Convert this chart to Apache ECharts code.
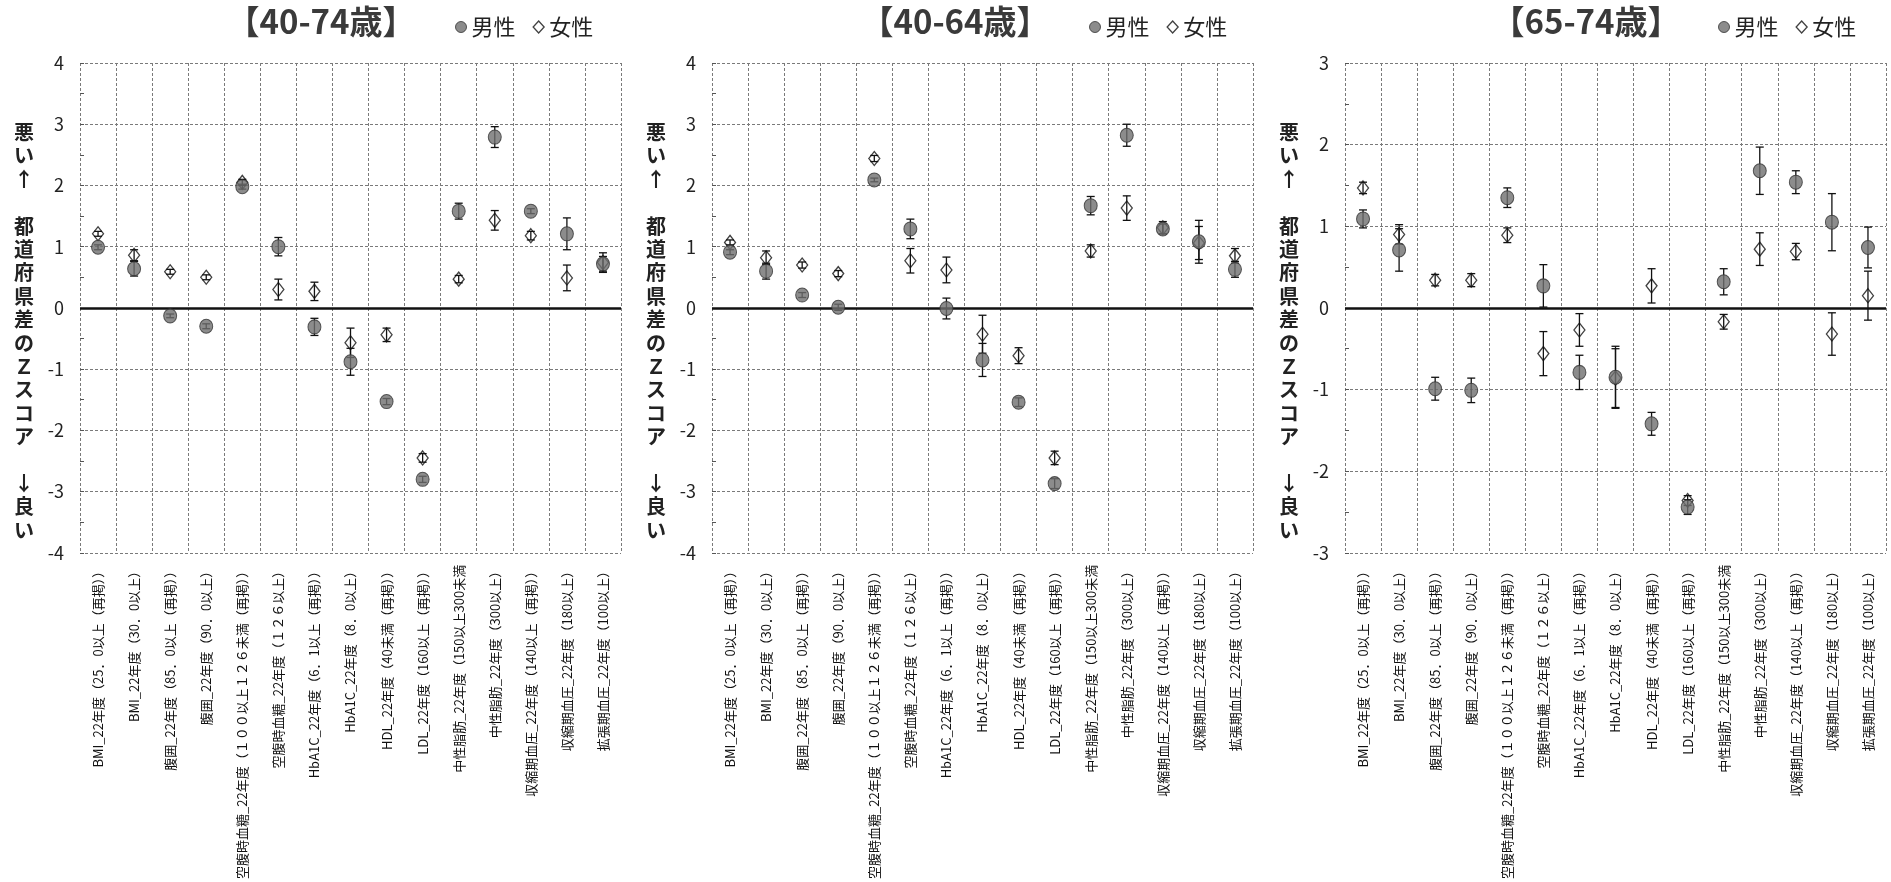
<!DOCTYPE html>
<html lang="ja">
<head>
<meta charset="utf-8">
<title>都道府県差のZスコア</title>
<script src="https://cdn.jsdelivr.net/npm/echarts@6/dist/echarts.min.js"></script>
<style>
  html, body { margin: 0; padding: 0; background: #fff; }
  #chart { width: 1891px; height: 882px; }
</style>
</head>
<body>
<div id="chart"></div>
<script>
// Health-check indicators (shared by all three panels)
const categories = [
  'BMI_22年度（25．0以上（再掲））',
  'BMI_22年度（30．0以上）',
  '腹囲_22年度（85．0以上（再掲））',
  '腹囲_22年度（90．0以上）',
  '空腹時血糖_22年度（１００以上１２６未満（再掲））',
  '空腹時血糖_22年度（１２６以上）',
  'HbA1C_22年度（6．1以上（再掲））',
  'HbA1C_22年度（8．0以上）',
  'HDL_22年度（40未満（再掲））',
  'LDL_22年度（160以上（再掲））',
  '中性脂肪_22年度（150以上300未満',
  '中性脂肪_22年度（300以上）',
  '収縮期血圧_22年度（140以上（再掲））',
  '収縮期血圧_22年度（180以上）',
  '拡張期血圧_22年度（100以上）'
];

const panelTitles = ['【40-74歳】', '【40-64歳】', '【65-74歳】'];
const seriesNames = ['男性', '女性'];
const yAxisName = '悪い↑　都道府県差のＺスコア　↓良い';

// 40-74歳: z-score and half-width of the error bar
const male4074      = [0.99, 0.64, -0.13, -0.30, 1.98, 1.00, -0.31, -0.88, -1.53, -2.80, 1.58, 2.79, 1.58, 1.21, 0.72];
const male4074Err   = [0.04, 0.12, 0.03, 0.04, 0.04, 0.15, 0.14, 0.22, 0.05, 0.05, 0.13, 0.17, 0.04, 0.26, 0.12];
const female4074    = [1.21, 0.86, 0.59, 0.50, 2.05, 0.30, 0.27, -0.57, -0.44, -2.45, 0.47, 1.43, 1.18, 0.49, 0.74];
const female4074Err = [0.04, 0.09, 0.04, 0.04, 0.05, 0.17, 0.15, 0.24, 0.11, 0.07, 0.06, 0.16, 0.07, 0.21, 0.16];

// 40-64歳
const male4064      = [0.91, 0.60, 0.21, 0.01, 2.09, 1.29, -0.01, -0.85, -1.54, -2.87, 1.67, 2.82, 1.29, 1.08, 0.63];
const male4064Err   = [0.04, 0.13, 0.04, 0.05, 0.03, 0.16, 0.17, 0.27, 0.07, 0.08, 0.15, 0.18, 0.08, 0.35, 0.13];
const female4064    = [1.07, 0.82, 0.70, 0.56, 2.44, 0.77, 0.62, -0.43, -0.78, -2.45, 0.93, 1.63, 1.31, 1.06, 0.85];
const female4064Err = [0.04, 0.11, 0.05, 0.05, 0.05, 0.20, 0.21, 0.31, 0.13, 0.11, 0.10, 0.20, 0.10, 0.27, 0.12];

// 65-74歳
const male6574      = [1.09, 0.71, -0.99, -1.01, 1.35, 0.27, -0.79, -0.85, -1.42, -2.44, 0.32, 1.68, 1.54, 1.05, 0.74];
const male6574Err   = [0.11, 0.26, 0.14, 0.15, 0.12, 0.26, 0.21, 0.38, 0.14, 0.09, 0.16, 0.29, 0.14, 0.35, 0.25];
const female6574    = [1.47, 0.90, 0.34, 0.34, 0.89, -0.56, -0.27, -0.86, 0.27, -2.36, -0.17, 0.72, 0.69, -0.32, 0.15];
const female6574Err = [0.07, 0.12, 0.07, 0.08, 0.09, 0.27, 0.20, 0.36, 0.21, 0.06, 0.09, 0.20, 0.10, 0.26, 0.30];

const yMin = [-4, -4, -3];
const yMax = [4, 4, 3];

const panels = [
  { male: male4074, maleErr: male4074Err, female: female4074, femaleErr: female4074Err },
  { male: male4064, maleErr: male4064Err, female: female4064, femaleErr: female4064Err },
  { male: male6574, maleErr: male6574Err, female: female6574, femaleErr: female6574Err }
];

// Layout
const FONT = "'Noto Sans CJK JP', 'Noto Sans', sans-serif";
const gridLeft = [80, 712, 1345];
const gridTop = 63, gridWidth = 541, gridHeight = 494;
const titleCenter = [321, 955, 1586];
const legendLeft = [455, 1089, 1718];

const gridLine = { color: '#7a7a7a', type: [3, 2], width: 1 };
const maleStyle = { color: '#6f6f6f', borderColor: '#333', borderWidth: 1 };
const femaleStyle = { color: 'rgba(255,255,255,0)', borderColor: '#111', borderWidth: 1.3 };

// Vertical error bar with short caps, placed through the axis scales
function errorBar(params, api) {
  const top = api.coord([api.value(0), api.value(2)]);
  const bot = api.coord([api.value(0), api.value(1)]);
  const cap = 4;
  const style = { stroke: '#111', lineWidth: 1.3 };
  return {
    type: 'group',
    children: [
      { type: 'line', shape: { x1: top[0], y1: top[1], x2: bot[0], y2: bot[1] }, style },
      { type: 'line', shape: { x1: top[0] - cap, y1: top[1], x2: top[0] + cap, y2: top[1] }, style },
      { type: 'line', shape: { x1: bot[0] - cap, y1: bot[1], x2: bot[0] + cap, y2: bot[1] }, style }
    ]
  };
}

const barData = (vals, errs) => vals.map((v, k) => [k, +(v - errs[k]).toFixed(3), +(v + errs[k]).toFixed(3)]);

// Axis name written top-to-bottom, one character per line (two blank lines lower it a little)
const verticalName = '\n\n' + yAxisName.split('').join('\n');

const option = {
  backgroundColor: '#fff',
  animation: false,
  textStyle: { fontFamily: FONT },
  title: panelTitles.map((t, i) => ({
    text: t,
    left: titleCenter[i],
    top: 5,
    textAlign: 'center',
    padding: 0,
    textStyle: { fontSize: 33, fontWeight: 'bold', color: '#3a3a3a', fontFamily: FONT }
  })),
  legend: panels.map((p, i) => ({
    left: legendLeft[i],
    top: 16,
    padding: 0,
    itemWidth: 11,
    itemHeight: 12,
    itemGap: 17,
    selectedMode: false,
    textStyle: { fontSize: 22, color: '#222', fontFamily: FONT },
    data: [
      { name: seriesNames[0], icon: 'circle', itemStyle: maleStyle },
      { name: seriesNames[1], icon: 'diamond', itemStyle: { color: '#fff', borderColor: '#111', borderWidth: 1.3 } }
    ]
  })),
  grid: panels.map((p, i) => ({
    left: gridLeft[i], top: gridTop, width: gridWidth, height: gridHeight
  })),
  xAxis: panels.map((p, i) => ({
    type: 'category',
    gridIndex: i,
    data: categories,
    boundaryGap: true,
    axisLine: { show: false },
    axisTick: { show: false },
    axisLabel: { interval: 0, rotate: 90, fontSize: 13, color: '#111', margin: 12, fontFamily: FONT },
    splitLine: { show: true, interval: 0, lineStyle: gridLine }
  })),
  yAxis: panels.map((p, i) => ({
    type: 'value',
    gridIndex: i,
    min: yMin[i],
    max: yMax[i],
    interval: 1,
    axisLine: { show: false },
    axisTick: { show: true, inside: true, length: 4, lineStyle: { color: '#555' } },
    minorTick: { show: true, splitNumber: 2, length: 4, lineStyle: { color: '#555' } },
    axisLabel: { fontSize: 18, color: '#222', margin: 16, fontFamily: FONT },
    splitLine: { show: true, lineStyle: gridLine },
    name: verticalName,
    nameLocation: 'middle',
    nameRotate: 0,
    nameGap: 46,
    nameTextStyle: { fontSize: 20, fontWeight: 'bold', color: '#222', lineHeight: 23.4, fontFamily: FONT }
  })),
  series: []
};

panels.forEach((p, i) => {
  option.series.push({
    name: '男性誤差', type: 'custom', xAxisIndex: i, yAxisIndex: i, z: 3,
    renderItem: errorBar, encode: { x: 0, y: [1, 2] },
    data: barData(p.male, p.maleErr),
    markLine: {
      silent: true, symbol: 'none', z: 2,
      label: { show: false },
      lineStyle: { color: '#111', width: 2.5, type: 'solid' },
      data: [{ yAxis: 0 }]
    }
  });
  option.series.push({
    name: '女性誤差', type: 'custom', xAxisIndex: i, yAxisIndex: i, z: 3,
    renderItem: errorBar, encode: { x: 0, y: [1, 2] },
    data: barData(p.female, p.femaleErr)
  });
  option.series.push({
    name: seriesNames[1], type: 'scatter', xAxisIndex: i, yAxisIndex: i, z: 4,
    symbol: 'diamond', symbolSize: [11, 14], itemStyle: femaleStyle,
    data: p.female
  });
  option.series.push({
    name: seriesNames[0], type: 'scatter', xAxisIndex: i, yAxisIndex: i, z: 5,
    symbol: 'circle', symbolSize: [13, 14], itemStyle: maleStyle,
    data: p.male
  });
});

const chart = echarts.init(document.getElementById('chart'), null, { renderer: 'canvas' });
chart.setOption(option);
</script>
</body>
</html>
